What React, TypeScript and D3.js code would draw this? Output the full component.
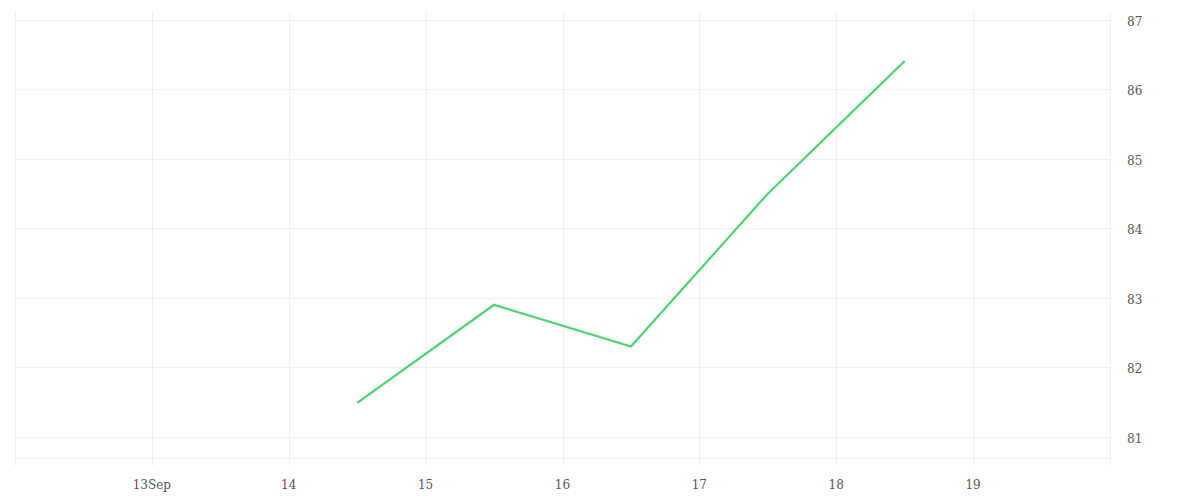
import * as d3 from "d3";
import {useEffect, useRef} from "react";

// 表示範囲（日単位）
const domainStart = "2023-09-12";
const domainEnd = "2023-09-20";

// データ点（各日の正午）
const dates = ["2023-09-14T12:00", "2023-09-15T12:00", "2023-09-16T12:00", "2023-09-17T12:00", "2023-09-18T12:00"];
const values = [81.49, 82.9, 82.3, 84.5, 86.41];

const yTicks = [81, 82, 83, 84, 85, 86, 87];
const yDomain = [80.58, 87.115];

const App = () => {
  const width = 1200;
  const height = 500;
  const left = 15;
  const right = 1110;
  const top = 12;
  const bottom = 466;

  const svgRef = useRef<SVGSVGElement>(null!);

  useEffect(() => {
    const svg = d3.select(svgRef.current);
    svg.selectAll("*").remove();

    const parse = d3.timeParse("%Y-%m-%dT%H:%M");
    const x = d3.scaleTime()
      .domain([new Date(domainStart + "T00:00"), new Date(domainEnd + "T00:00")])
      .range([left, right]);
    const y = d3.scaleLinear().domain(yDomain).range([bottom, top]);

    const grid = "#efefef";
    const dayTicks = d3.timeDay.range(x.domain()[0], d3.timeDay.offset(x.domain()[1], 1));

    // 縦のグリッド
    svg.append("g").selectAll("line").data(dayTicks).enter()
      .append("line")
      .attr("x1", d => Math.round(x(d)) + 0.5)
      .attr("x2", d => Math.round(x(d)) + 0.5)
      .attr("y1", top)
      .attr("y2", bottom)
      .attr("stroke", grid);

    // 横のグリッド
    svg.append("g").selectAll("line").data(yTicks).enter()
      .append("line")
      .attr("x1", left)
      .attr("x2", right)
      .attr("y1", d => Math.round(y(d)) + 0.5)
      .attr("y2", d => Math.round(y(d)) + 0.5)
      .attr("stroke", grid);

    // 下端の線
    svg.append("line")
      .attr("x1", left).attr("x2", right)
      .attr("y1", 458.5).attr("y2", 458.5)
      .attr("stroke", grid);

    // X ラベル
    const labelDays = dayTicks.filter(d => d > x.domain()[0] && d < x.domain()[1]);
    svg.append("g").selectAll("text").data(labelDays).enter()
      .append("text")
      .attr("x", d => x(d))
      .attr("y", 489)
      .attr("text-anchor", "middle")
      .attr("fill", "#555")
      .attr("font-size", "12px")
      .attr("font-family", "DejaVu Serif")
      .text((d, i) => i === 0 ? d3.timeFormat("%-d")(d) + d3.timeFormat("%b")(d) : d3.timeFormat("%-d")(d));

    // Y ラベル
    svg.append("g").selectAll("text").data(yTicks).enter()
      .append("text")
      .attr("x", 1127)
      .attr("y", d => y(d) + 6)
      .attr("fill", "#555")
      .attr("font-size", "12px")
      .attr("font-family", "DejaVu Serif")
      .text(d => d);

    // 折れ線
    const data = dates.map((d, i) => [parse(d)!, values[i]] as [Date, number]);
    const line = d3.line<[Date, number]>()
      .x(d => x(d[0]))
      .y(d => y(d[1]));
    svg.append("path")
      .attr("d", line(data))
      .attr("fill", "none")
      .attr("stroke", "#4cd372")
      .attr("stroke-width", 2.2);
  }, []);

  return (
    <svg width={width} height={height} ref={svgRef}
         style={{position: "absolute", left: 0, top: 0, background: "#fff"}}/>
  );
};

export default App;
